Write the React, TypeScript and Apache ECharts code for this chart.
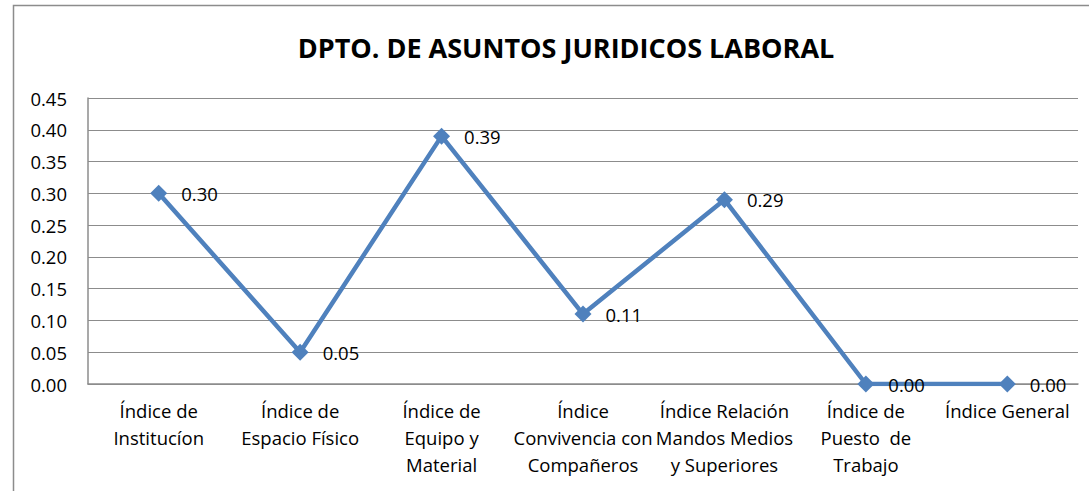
import React, { useEffect, useRef } from "react";
import * as echarts from "echarts";

const categories = [
  "Índice de\nInstitucíon",
  "Índice de\nEspacio Físico",
  "Índice de\nEquipo y\nMaterial",
  "Índice\nConvivencia con\nCompañeros",
  "Índice Relación\nMandos Medios\ny Superiores",
  "Índice de\nPuesto  de\nTrabajo",
  "Índice General",
];
const values = [0.3, 0.05, 0.39, 0.11, 0.29, 0.0, 0.0];
const titleText = "DPTO. DE ASUNTOS JURIDICOS LABORAL";

const FONT = "'Open Sans', sans-serif";

export default function App() {
  const ref = useRef<HTMLDivElement>(null);
  useEffect(() => {
    if (!ref.current) return;
    const chart = echarts.init(ref.current, null, { renderer: "svg" });
    chart.setOption({
      animation: false,
      backgroundColor: "#ffffff",
      title: {
        text: titleText,
        left: 561,
        top: 29,
        textAlign: "center",
        textStyle: { fontFamily: FONT, fontSize: 27, fontWeight: "bold", color: "#000" },
      },
      graphic: [
        {
          type: "rect",
          shape: { x: 13.5, y: 5.5, width: 1100, height: 520 },
          style: { fill: "none", stroke: "#8c8c8c", lineWidth: 1.5 },
          silent: true,
        },
      ],
      grid: { left: 88, right: 11, top: 98, bottom: 107, containLabel: false },
      xAxis: {
        type: "category",
        data: categories,
        boundaryGap: true,
        axisLine: { show: true, lineStyle: { color: "#8c8c8c", width: 1.5 } },
        axisTick: { show: false },
        axisLabel: {
          interval: 0,
          fontFamily: FONT,
          fontSize: 18.5,
          color: "#000",
          lineHeight: 27,
          margin: 13,
        },
      },
      yAxis: {
        type: "value",
        min: 0,
        max: 0.45,
        interval: 0.05,
        axisLine: { show: true, lineStyle: { color: "#8c8c8c", width: 1.5 } },
        axisTick: { show: false },
        splitLine: { show: true, lineStyle: { color: "#8c8c8c", width: 1 } },
        axisLabel: {
          fontFamily: FONT,
          fontSize: 18.5,
          color: "#000",
          margin: 21,
          formatter: (v: number) => v.toFixed(2),
        },
      },
      series: [
        {
          type: "line",
          data: values,
          symbol: "diamond",
          symbolSize: 17,
          lineStyle: { color: "#4F81BD", width: 4.5 },
          itemStyle: { color: "#4F81BD" },
          label: {
            show: true,
            position: "right",
            distance: 14,
            fontFamily: FONT,
            fontSize: 18.5,
            color: "#000",
            formatter: (p: any) => Number(p.value).toFixed(2),
          },
        },
      ],
    });
    return () => chart.dispose();
  }, []);
  return (
    <div
      ref={ref}
      style={{ position: "fixed", left: 0, top: 0, width: 1089, height: 491 }}
    />
  );
}
